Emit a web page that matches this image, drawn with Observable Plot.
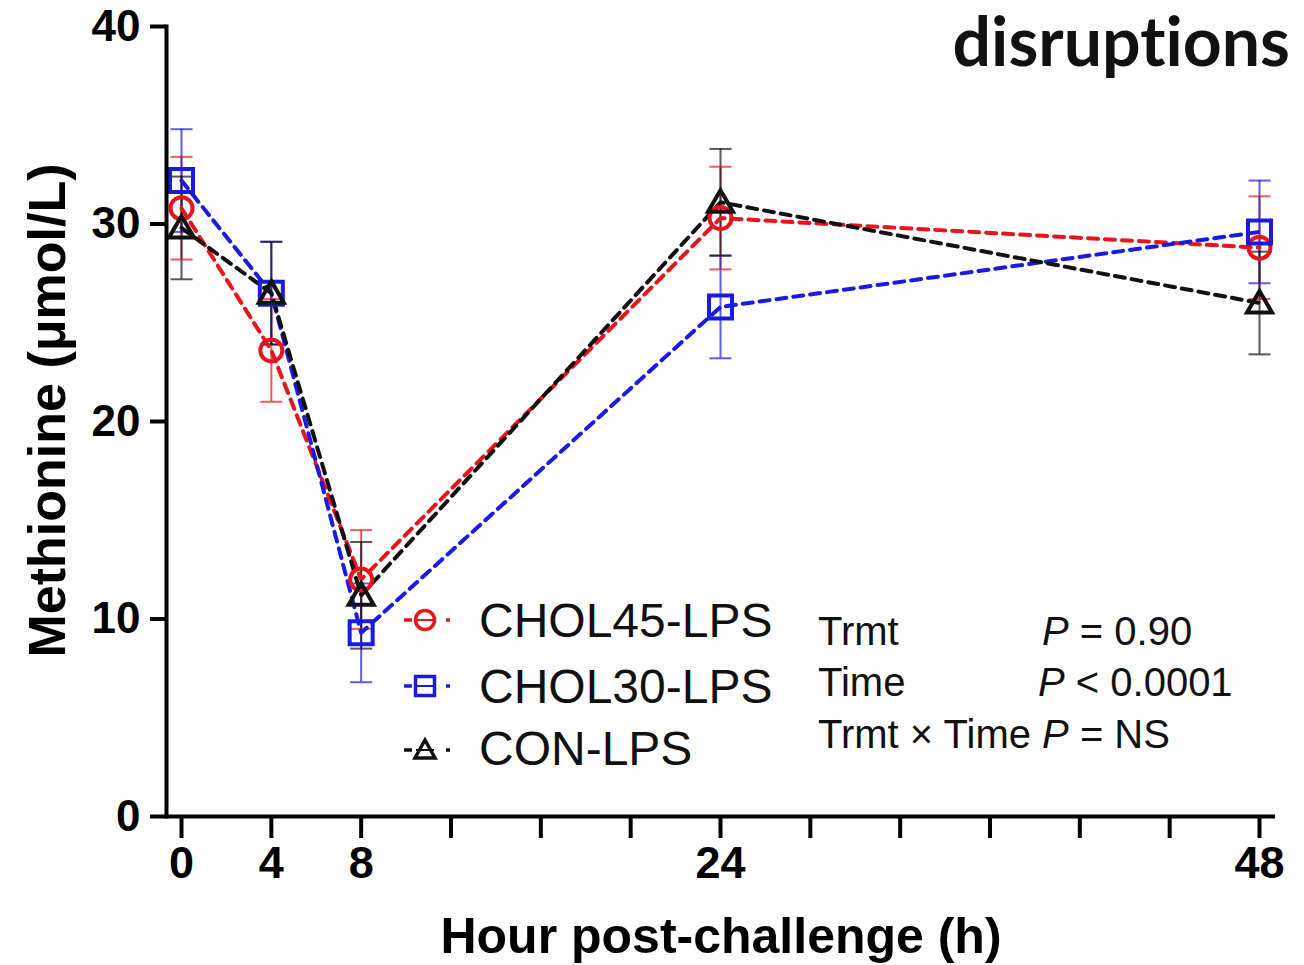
<!DOCTYPE html>
<html>
<head>
<meta charset="utf-8">
<script src="https://cdn.jsdelivr.net/npm/d3@7"></script>
<script src="https://cdn.jsdelivr.net/npm/@observablehq/plot@0.6"></script>
<style>
  html, body { margin: 0; padding: 0; background: #fff; }
  #wrap { position: relative; width: 1304px; height: 965px; overflow: hidden; background: #fff; }
  #wrap > svg { position: absolute; left: 0; top: 0; }
  #overlay { pointer-events: none; }
</style>
</head>
<body>
<div id="wrap"></div>
<script>
// ---- data ----
const hours = [0, 4, 8, 24, 48];
const seriesNames = ["CHOL45-LPS", "CHOL30-LPS", "CON-LPS"];
const chol45Mean = [30.8, 23.6, 12.0, 30.3, 28.8];
const chol45Sem  = [2.6, 2.6, 2.5, 2.6, 2.6];
const chol30Mean = [32.2, 26.5, 9.3, 25.8, 29.6];
const chol30Sem  = [2.6, 2.6, 2.5, 2.6, 2.6];
const conMean    = [29.8, 26.5, 11.2, 31.1, 26.0];
const conSem     = [2.6, 2.6, 2.7, 2.7, 2.6];
const seriesColors = ["#e8141c", "#1a1ae0", "#111111"];
const xTicks = [0, 4, 8, 12, 16, 20, 24, 28, 32, 36, 40, 44, 48];
const xTickLabels = [0, 4, 8, 24, 48];
const yTicks = [0, 10, 20, 30, 40];
const xTitle = "Hour post-challenge (h)";
const yTitle = "Methionine (μmol/L)";
const headline = "disruptions";
const statRows = [
  ["Trmt", "P", " = 0.90"],
  ["Time", "P", " < 0.0001"],
  ["Trmt × Time ", "P", " = NS"]
];

const means = [chol45Mean, chol30Mean, conMean];
const sems = [chol45Sem, chol30Sem, conSem];
const data = seriesNames.flatMap((s, i) =>
  hours.map((h, j) => ({series: s, hour: h, mean: means[i][j], lo: means[i][j] - sems[i][j], hi: means[i][j] + sems[i][j]}))
);

// custom symbols
const capSym = {draw(c) { c.moveTo(-11, 0); c.lineTo(11, 0); }};
const squareSym = {draw(c) { c.rect(-11.5, -11.5, 23, 23); }};
const triSym = {draw(c) { c.moveTo(0, -12); c.lineTo(12.5, 9.5); c.lineTo(-12.5, 9.5); c.closePath(); }};
const circleSym = {draw(c) { c.moveTo(11, 0); c.arc(0, 0, 11, 0, 2 * Math.PI); }};
const symFor = {"CHOL45-LPS": circleSym, "CHOL30-LPS": squareSym, "CON-LPS": triSym};

const marks = [
  // error bars
  Plot.ruleX(data, {x: "hour", y1: "lo", y2: "hi", stroke: "series", strokeWidth: 2, strokeOpacity: 0.7}),
  Plot.dot(data, {x: "hour", y: "hi", stroke: "series", symbol: () => capSym, strokeWidth: 2, strokeOpacity: 0.7}),
  Plot.dot(data, {x: "hour", y: "lo", stroke: "series", symbol: () => capSym, strokeWidth: 2, strokeOpacity: 0.7}),
  // dashed connecting lines
  Plot.line(data, {x: "hour", y: "mean", z: "series", stroke: "series", strokeWidth: 4, strokeDasharray: "10,7"}),
  // markers
  ...seriesNames.map(s => Plot.dot(data.filter(d => d.series === s), {x: "hour", y: "mean", stroke: "series", symbol: () => symFor[s], strokeWidth: 4, fill: "none"})),
  // axes
  Plot.ruleY([0], {strokeWidth: 4}),
  Plot.frame({anchor: "left", strokeWidth: 4}),
  Plot.axisX({ticks: xTicks, tickSize: 22, tickPadding: 8, strokeWidth: 4, fontSize: 45,
    tickFormat: d => xTickLabels.includes(d) ? String(d) : "", label: null}),
  Plot.axisY({ticks: yTicks, tickSize: 16, tickPadding: 10, strokeWidth: 4, fontSize: 44, label: null}),
  Plot.text([xTitle], {frameAnchor: "bottom", dy: 120, fontSize: 50, lineAnchor: "middle", textAnchor: "middle"}),
  Plot.text([yTitle], {frameAnchor: "left", dx: -118, dy: -11, rotate: -90, fontSize: 52, lineAnchor: "middle", textAnchor: "middle"})
];

const chart = Plot.plot({
  width: 1304,
  height: 965,
  marginLeft: 166,
  marginRight: 29,
  marginTop: 26,
  marginBottom: 149,
  x: {domain: [0, 48], range: [181, 1259]},
  y: {domain: [0, 40]},
  color: {domain: seriesNames, range: seriesColors},
  style: {fontFamily: "'Liberation Sans', Arial, sans-serif", fontWeight: "bold", background: "white", color: "black", overflow: "visible"},
  marks
});
document.getElementById("wrap").appendChild(chart);

// ---- overlay: headline, legend, statistics ----
const ns = "http://www.w3.org/2000/svg";
const ov = d3.select("#wrap").append("svg").attr("id", "overlay")
  .attr("width", 1304).attr("height", 965).attr("xmlns", ns);

ov.append("text").attr("x", 1290).attr("y", 66).attr("text-anchor", "end")
  .attr("font-family", "Lato, 'Open Sans', sans-serif").attr("font-weight", "bold")
  .style("font-variant-ligatures", "none").style("font-feature-settings", "'liga' 0")
  .attr("font-size", 68).attr("fill", "#111").text(headline);

const legY = [620, 686, 750];
const legBase = [637, 703, 765];
seriesNames.forEach((s, i) => {
  const g = ov.append("g").attr("stroke", seriesColors[i]).attr("fill", "none").attr("stroke-width", 3.5);
  g.append("line").attr("x1", 404).attr("x2", 412).attr("y1", legY[i]).attr("y2", legY[i]);
  g.append("line").attr("x1", 446).attr("x2", 450).attr("y1", legY[i]).attr("y2", legY[i]);
  const cx = 425, cy = legY[i];
  if (i === 0) g.append("circle").attr("cx", cx).attr("cy", cy).attr("r", 9.5);
  if (i === 1) g.append("rect").attr("x", cx - 9.5).attr("y", cy - 9.5).attr("width", 19).attr("height", 19);
  if (i === 2) g.append("path").attr("d", `M${cx},${cy - 10}L${cx + 10},${cy + 8}L${cx - 10},${cy + 8}Z`);
  g.append("line").attr("x1", cx - 9).attr("x2", cx + 9).attr("y1", cy).attr("y2", cy).attr("stroke-width", 2);
  ov.append("text").attr("x", 479).attr("y", legBase[i])
    .attr("font-family", "'Liberation Sans', Arial, sans-serif").attr("font-size", 48)
    .attr("fill", "#111").text(s);
});

const statBase = [645, 696, 748];
const pX = [1042, 1038, null];
statRows.forEach((r, i) => {
  const t = ov.append("text").attr("x", 818).attr("y", statBase[i])
    .attr("font-family", "'Liberation Sans', Arial, sans-serif").attr("font-size", 40).attr("fill", "#111");
  t.append("tspan").text(r[0]);
  const p = t.append("tspan").attr("font-style", "italic").text(r[1]);
  if (pX[i] !== null) p.attr("x", pX[i]);
  t.append("tspan").text(r[2]);
});
</script>
</body>
</html>
